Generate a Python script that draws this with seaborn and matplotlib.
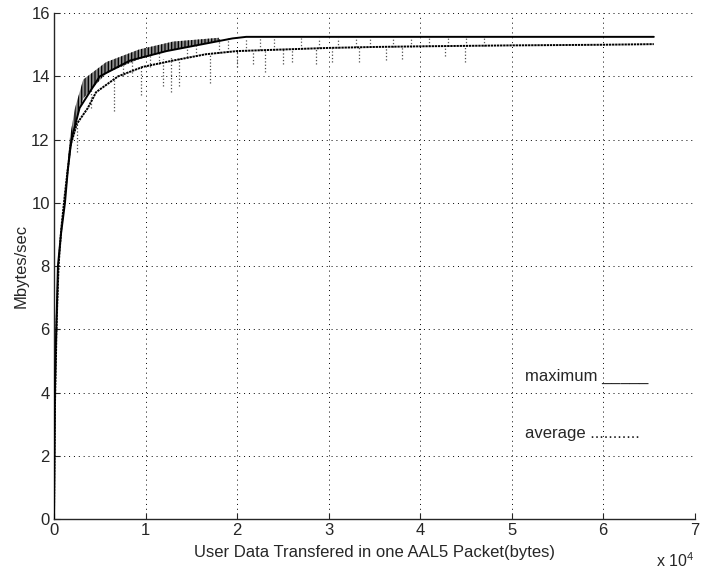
import numpy as np
import pandas as pd
import seaborn as sns
import matplotlib.pyplot as plt

# maximum throughput curve (bytes, Mbytes/sec)
max_x = [0, 50, 100, 200, 300, 430, 760, 1200, 1500, 1900, 2800, 5000, 8300,
         12300, 15900, 19500, 21000, 30000, 40000, 50000, 60000, 65535]
max_y = [0, 2.0, 4.0, 5.5, 6.5, 8.0, 9.0, 10.0, 11.0, 12.0, 13.0, 14.0, 14.5,
         14.8, 15.0, 15.2, 15.25, 15.25, 15.25, 15.25, 15.25, 15.25]

# sawtooth band of the maximum curve (tooth tops / tooth bottoms)
teeth_x = [1500, 1700, 2300, 3200, 5700, 9300, 13000, 18000]
teeth_top = [11.0, 12.0, 13.0, 13.9, 14.45, 14.85, 15.1, 15.22]
teeth_bot = [11.0, 11.5, 12.5, 13.3, 14.1, 14.55, 14.85, 15.13]

# average throughput curve
avg_x = [0, 100, 300, 500, 800, 1200, 1800, 2500, 3700, 4600, 7000, 9700,
         13000, 16600, 20000, 25000, 30000, 35000, 40000, 50000, 60000, 65535]
avg_y = [0, 3.5, 6.3, 8.0, 9.2, 10.3, 11.8, 12.5, 13.0, 13.5, 14.0, 14.3,
         14.5, 14.7, 14.8, 14.85, 14.9, 14.93, 14.95, 14.98, 15.0, 15.02]

# downward excursions of the average
dip_x = [2500, 6600, 9500, 11900, 12800, 13700, 17000, 20000, 21700, 23100,
         25000, 26000, 28600, 30400, 33300, 36300, 38000, 42700, 44900]
dip_top = [12.5, 13.9, 14.3, 14.55, 14.6, 14.6, 14.7, 14.8, 14.8, 14.85,
           14.85, 14.87, 14.9, 14.9, 14.92, 14.93, 14.94, 14.95, 14.96]
dip_low = [11.6, 12.9, 13.4, 13.7, 13.5, 13.7, 13.8, 14.3, 14.4, 14.15,
           14.4, 14.45, 14.4, 14.45, 14.46, 14.52, 14.55, 14.66, 14.46]

# upward excursions of the average (dots between the curves)
up_x = [4000, 7500, 8500, 10500, 11500, 14500, 15500, 18000, 19000, 21000,
        22500, 24000, 27000, 29000, 31000, 33000, 34500, 37000, 39000, 41000,
        43000, 45000, 47000]
up_top = [13.6, 14.5, 14.7, 14.9, 15.0, 15.1, 15.1, 15.2, 15.2, 15.2,
          15.2, 15.2, 15.2, 15.2, 15.2, 15.2, 15.2, 15.2, 15.2, 15.2,
          15.2, 15.2, 15.2]
up_bot = [13.0, 14.0, 14.1, 14.3, 14.4, 14.6, 14.65, 14.75, 14.78, 14.8,
          14.82, 14.84, 14.88, 14.9, 14.9, 14.92, 14.92, 14.93, 14.94, 14.95,
          14.96, 14.96, 14.97]

sns.set_style("ticks")
plt.rcParams['font.family'] = ['Liberation Sans', 'DejaVu Sans']
plt.rcParams['mathtext.fontset'] = 'custom'
plt.rcParams['mathtext.rm'] = 'Liberation Sans'
plt.rcParams['hatch.linewidth'] = 0.9

fig = plt.figure(figsize=(7.01, 5.71), dpi=100)
ax = fig.add_axes([0.077, 0.091, 0.914, 0.886])

df_max = pd.DataFrame({"x": max_x, "y": max_y})
df_avg = pd.DataFrame({"x": avg_x, "y": avg_y})

ax.fill_between(teeth_x, teeth_bot, teeth_top, facecolor='0.55', edgecolor='k',
                hatch='|||||', linewidth=0, zorder=3)
ax.vlines(up_x, up_bot, up_top, colors='0.35', linestyles=':', linewidth=0.9, zorder=2)
ax.vlines(dip_x, dip_low, dip_top, colors='0.3', linestyles=':', linewidth=0.9, zorder=2)
sns.lineplot(data=df_avg, x="x", y="y", ax=ax, color='k', linewidth=1.4,
             dashes=False, zorder=3)
ax.lines[-1].set_linestyle((0, (1.2, 0.4)))
sns.lineplot(data=df_max, x="x", y="y", ax=ax, color='k', linewidth=1.4, zorder=4)

ax.set_xlim(0, 70000)
ax.set_ylim(0, 16)
ax.set_xticks(range(0, 70001, 10000))
ax.set_xticklabels([str(i) for i in range(8)])
ax.set_yticks(range(0, 17, 2))
ax.tick_params(direction='in', length=4, labelsize=12, width=0.8, pad=3)
ax.grid(True, linestyle=(0, (1, 4)), color='k', linewidth=0.7)
for s in ['top', 'right']:
    ax.spines[s].set_visible(False)
for s in ['left', 'bottom']:
    ax.spines[s].set_linewidth(1.0)

ax.set_xlabel('User Data Transfered in one AAL5 Packet(bytes)', fontsize=12, labelpad=5)
ax.set_ylabel('Mbytes/sec', fontsize=12, labelpad=2)

ax.text(51500, 4.5, 'maximum _____', fontsize=12, va='center', ha='left')
ax.text(51500, 2.72, 'average ...........', fontsize=12, va='center', ha='left')
ax.text(1.0, -0.082, r'x 10$^4$', transform=ax.transAxes, fontsize=11.5,
        ha='right', va='center')

fig.savefig('out.png', dpi=100)
